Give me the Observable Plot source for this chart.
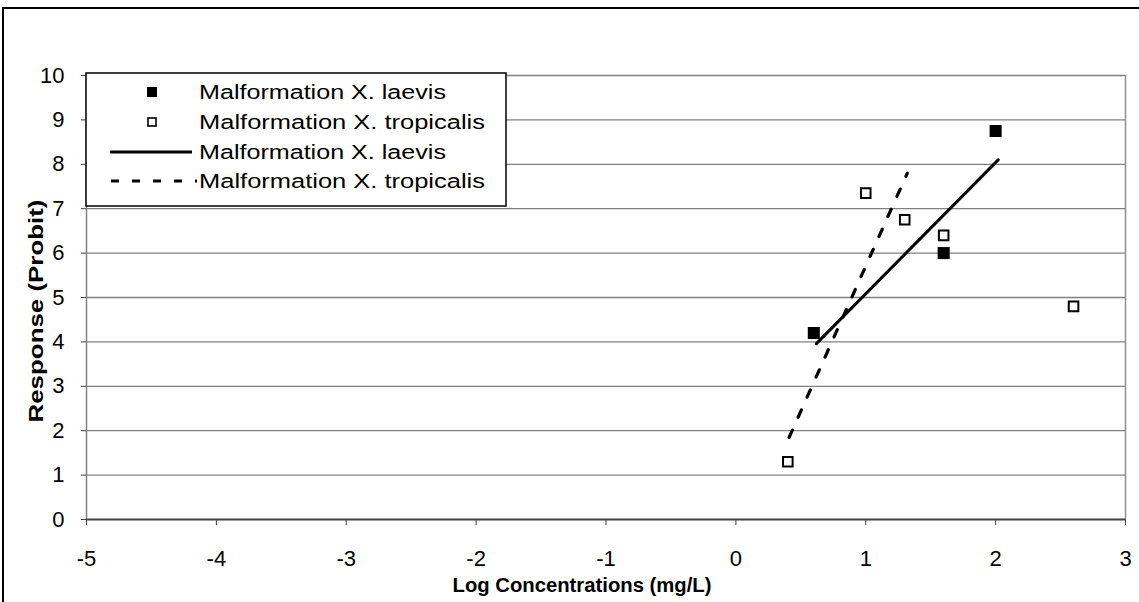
<!DOCTYPE html>
<html>
<head>
<meta charset="utf-8">
<script src="https://cdn.jsdelivr.net/npm/d3@7"></script>
<script src="https://cdn.jsdelivr.net/npm/@observablehq/plot@0.6"></script>
<style>
  html, body { margin: 0; padding: 0; background: white; }
  svg { display: block; }
</style>
</head>
<body>
<div id="chart"></div>
<script>
// ---- Data ----
const laevisX = [0.6, 1.6, 2.0];
const laevisY = [4.2, 6.0, 8.75];
const tropX = [0.4, 1.0, 1.3, 1.6, 2.6];
const tropY = [1.3, 7.35, 6.75, 6.4, 4.8];
const laevisFitX = [0.62, 2.02];
const laevisFitY = [3.96, 8.1];
const tropFitX = [0.41, 1.32];
const tropFitY = [1.85, 7.8];
const xTicks = [-5, -4, -3, -2, -1, 0, 1, 2, 3];
const yTicks = [0, 1, 2, 3, 4, 5, 6, 7, 8, 9, 10];
const legendLabels = [
  "Malformation X. laevis",
  "Malformation X. tropicalis",
  "Malformation X. laevis",
  "Malformation X. tropicalis"
];
const xTitle = "Log Concentrations (mg/L)";
const yTitle = "Response (Probit)";

const laevisPts = laevisX.map((x, i) => ({x, y: laevisY[i]}));
const tropPts = tropX.map((x, i) => ({x, y: tropY[i]}));
const laevisFit = laevisFitX.map((x, i) => ({x, y: laevisFitY[i]}));
const tropFit = tropFitX.map((x, i) => ({x, y: tropFitY[i]}));

const W = 1139, H = 602;
const font = "'Liberation Sans', Arial, Helvetica, sans-serif";

const chart = Plot.plot({
  width: W,
  height: H,
  marginLeft: 86,
  marginRight: 14,
  marginTop: 75,
  marginBottom: 83,
  style: {fontFamily: font, background: "white", overflow: "visible", color: "black"},
  x: {domain: [-5, 3]},
  y: {domain: [0, 10]},
  marks: [
    Plot.ruleY(yTicks.filter(d => d > 0), {stroke: "#808080", strokeWidth: 1.3}),
    Plot.ruleX([3], {y1: 0, y2: 10, stroke: "#909090", strokeWidth: 1.5}),
    Plot.ruleX([-5], {y1: 0, y2: 10, stroke: "#808080", strokeWidth: 1.5}),
    Plot.ruleY([0], {stroke: "#404040", strokeWidth: 2}),
    Plot.axisX({ticks: xTicks, tickSize: 6, tickPadding: 25, fontSize: 22, label: null, stroke: "#404040", tickFormat: d => String(d).replace("−", "-")}),
    Plot.axisY({ticks: yTicks, tickSize: 5, tickPadding: 17, fontSize: 22, label: null, stroke: "#404040"}),
    Plot.line(laevisFit, {x: "x", y: "y", stroke: "black", strokeWidth: 3}),
    Plot.line(tropFit, {x: "x", y: "y", stroke: "black", strokeWidth: 3.2, strokeDasharray: "8,14"}),
    Plot.dot(laevisPts, {x: "x", y: "y", symbol: "square", r: 6.8, fill: "black", stroke: "none"}),
    Plot.dot(tropPts, {x: "x", y: "y", symbol: "square", r: 5.4, fill: "white", stroke: "black", strokeWidth: 2})
  ]
});

document.getElementById("chart").appendChild(chart);

const svg = d3.select(chart);
// make Plot's tick labels the reference size
svg.selectAll("text").style("font-size", "22px").style("font-family", font);

// outer chart border
svg.append("rect")
  .attr("x", 3).attr("y", 8).attr("width", W + 20).attr("height", H + 20)
  .attr("fill", "none").attr("stroke", "black").attr("stroke-width", 2);

// axis titles
svg.append("text")
  .attr("x", 582).attr("y", 592)
  .attr("text-anchor", "middle")
  .attr("font-family", font).attr("font-weight", "bold").attr("font-size", 20)
  .attr("textLength", 259).attr("lengthAdjust", "spacingAndGlyphs")
  .text(xTitle);
svg.append("text")
  .attr("transform", "translate(43,311) rotate(-90)")
  .attr("text-anchor", "middle")
  .attr("font-family", font).attr("font-weight", "bold").attr("font-size", 21)
  .attr("textLength", 223).attr("lengthAdjust", "spacingAndGlyphs")
  .text(yTitle);

// legend
const lg = svg.append("g");
lg.append("rect")
  .attr("x", 86).attr("y", 73).attr("width", 420).attr("height", 133)
  .attr("fill", "white").attr("stroke", "black").attr("stroke-width", 1.5);
const rowY = [92, 122, 152, 181];
const legendLen = [247, 286, 247, 286];
legendLabels.forEach((t, i) => {
  lg.append("text")
    .attr("x", 199).attr("y", rowY[i]).attr("dy", "0.35em")
    .attr("text-anchor", "start")
    .attr("font-family", font).attr("font-size", 20)
    .attr("textLength", legendLen[i]).attr("lengthAdjust", "spacingAndGlyphs")
    .text(t);
});
lg.append("rect").attr("x", 147).attr("y", rowY[0] - 5).attr("width", 10).attr("height", 10).attr("fill", "black");
lg.append("rect").attr("x", 148).attr("y", rowY[1] - 4).attr("width", 8).attr("height", 8)
  .attr("fill", "white").attr("stroke", "black").attr("stroke-width", 1.6);
lg.append("line").attr("x1", 110).attr("x2", 192).attr("y1", rowY[2]).attr("y2", rowY[2])
  .attr("stroke", "black").attr("stroke-width", 3);
lg.append("line").attr("x1", 111).attr("x2", 197).attr("y1", rowY[3]).attr("y2", rowY[3])
  .attr("stroke", "black").attr("stroke-width", 3.2).attr("stroke-dasharray", "8,13");
</script>
</body>
</html>
